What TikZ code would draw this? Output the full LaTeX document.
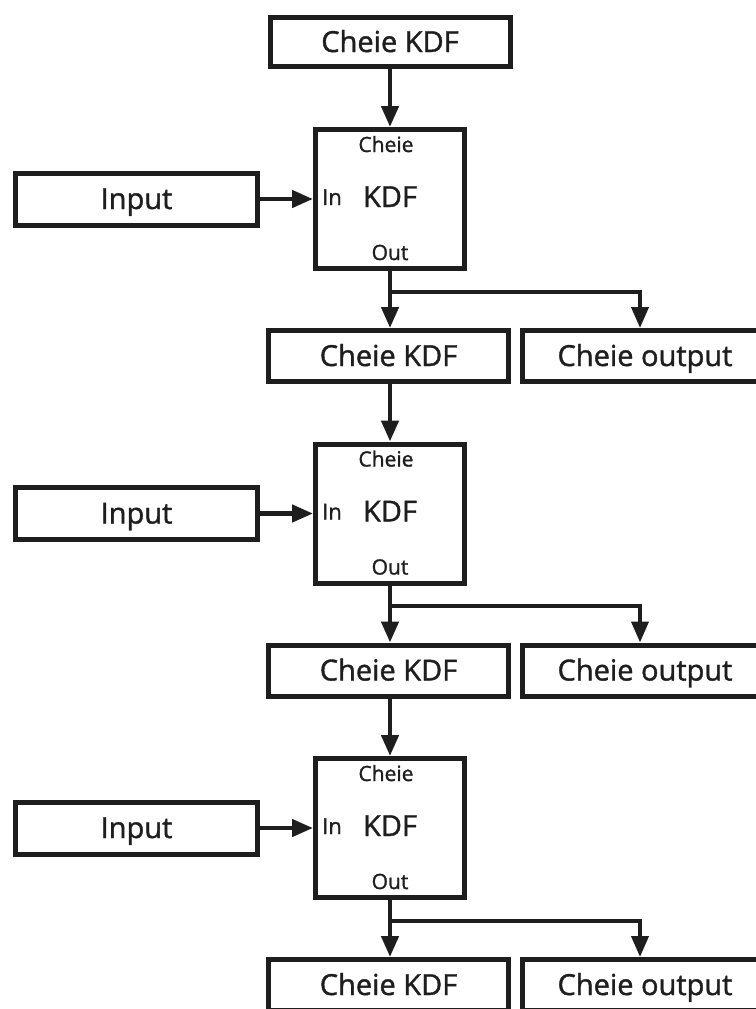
\documentclass[tikz,border=0pt]{standalone}
\usepackage{fontspec}
\setmainfont{Open Sans}
\newfontfamily\heavy{Open Sans}[FakeBold=1.3]
\usetikzlibrary{arrows.meta}
\definecolor{ink}{HTML}{1E1E1E}
\tikzset{
  box/.style={draw=ink, line width=5pt, inner sep=0pt, text=ink,
    font=\heavy\fontsize{29}{34}\selectfont, text height=20pt, text depth=0pt},
  kdfbox/.style={draw=ink, line width=5pt, inner sep=0pt,
    minimum width=149pt, minimum height=139pt},
  lbl/.style={inner sep=0pt, text=ink, font=\heavy\fontsize{21}{25}\selectfont},
  inlbl/.style={inner sep=0pt, text=ink, font=\heavy\fontsize{22}{26}\selectfont},
  big/.style={inner sep=0pt, text=ink, font=\heavy\fontsize{29}{34}\selectfont},
  arr/.style={draw=ink, line width=4.5pt, -{Triangle[length=21pt,width=17pt]}},
}
\begin{document}
\begin{tikzpicture}[x=1pt,y=-1pt]
\useasboundingbox (0,0) rectangle (755,1009);
% top key
\node[box, minimum width=240pt, minimum height=49pt] (k0) at (390,42) {Cheie KDF};
\foreach \i/\y/\ck in {1/199/356, 2/513.5/670.5, 3/828/985}{
  \node[kdfbox] (f\i) at (390,\y) {};
  \node[lbl, anchor=base] (fc\i) at ([xshift=-4pt,yshift=47pt]f\i.center) {Cheie};
  \node[big, anchor=base] (fk\i) at ([yshift=-8pt]f\i.center) {KDF};
  \node[inlbl, anchor=base west] (fi\i) at ([xshift=-68pt,yshift=-6pt]f\i.center) {In};
  \node[lbl, anchor=base] (fo\i) at ([yshift=-61pt]f\i.center) {Out};
  \node[box, minimum width=242pt, minimum height=52pt] (in\i) at (136.5,\y) {Input};
  \node[box, minimum width=240pt, minimum height=51pt] (ck\i) at (388.5,\ck) {Cheie KDF};
  \node[box, minimum width=245pt, minimum height=51pt] (co\i) at (645,\ck) {Cheie output};
  \coordinate (b\i) at (390,\y+92.5);
  \draw[arr] (in\i) -- (f\i);
  \draw[arr] (f\i.south) -- (f\i.south |- ck\i.north);
  \draw[arr, line width=4pt] (b\i) -| ([xshift=-5pt]co\i.north);
}
\draw[arr] (k0.south) -- (f1.north);
\draw[arr] (ck1.south -| f2.north) -- (f2.north);
\draw[arr] (ck2.south -| f3.north) -- (f3.north);
\end{tikzpicture}
\end{document}
